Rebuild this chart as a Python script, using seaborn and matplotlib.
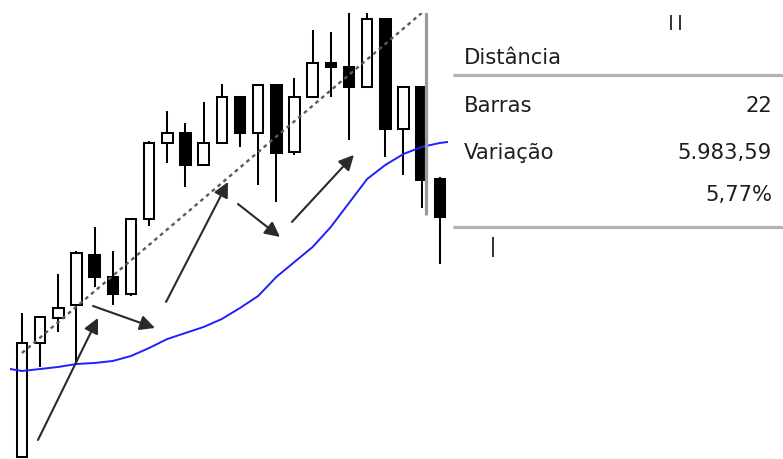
import numpy as np
import pandas as pd
import matplotlib
matplotlib.use("Agg")
import matplotlib.pyplot as plt
import seaborn as sns

# ---------------- data ----------------
opens  = [101870, 103876, 104316, 104545, 105425, 105038, 104738, 106058,
          107396, 107572, 107009, 107396, 108206, 107572, 108417, 107238,
          108206, 108804, 108734, 108382, 109578, 107642, 108382, 106762]
highs  = [104404, 104334, 105090, 105495, 105918, 105495, 106058, 107431,
          107959, 107748, 108118, 108434, 108206, 108417, 108417, 108540,
          109385, 109350, 110000, 110200, 109578, 108382, 108382, 106800]
lows   = [101860, 103454, 104070, 103524, 104862, 104545, 104703, 105935,
          107044, 106622, 107000, 107396, 107326, 106657, 106358, 107185,
          108206, 108206, 107449, 108382, 107150, 106833, 106252, 105266]
closes = [103876, 104334, 104492, 105460, 105038, 104738, 106058, 107396,
          107572, 107009, 107396, 108206, 107572, 108417, 107220, 108206,
          108804, 108734, 108382, 109578, 107642, 108382, 106745, 106094]

ma_index = [-0.66, 0, 1, 2, 3, 4, 5, 6, 7, 8, 9, 10, 11, 12, 13, 14, 15,
            16, 17, 18, 19, 20, 21, 22, 23, 23.45]
ma_values = [103418, 103383, 103418, 103454, 103506, 103524, 103559, 103647,
             103788, 103946, 104052, 104158, 104298, 104492, 104703, 105038,
             105302, 105566, 105918, 106340, 106762, 107009, 107202, 107326,
             107396, 107414]

measure_start_price = 103700.0
measure_bars = 22
measure_change = 5983.59
measure_pct = 5.77

cursor_bar = 22.22
cursor_low = 106129

# arrows: (tail bar, tail price) -> (head bar, head price)
arrow_tails = [(0.88, 102169), (3.91, 104527), (7.93, 104598), (11.89, 106322), (14.86, 106006)]
arrow_heads = [(4.18, 104316), (7.32, 104140), (11.34, 106710), (14.20, 105742), (18.27, 107185)]

panel_title = "Distância"
panel_rows = [("Barras", "22"), ("Variação", "5.983,59"), ("", "5,77%")]

# ---------------- figure ----------------
sns.set_style("white")
plt.rcParams['font.family'] = ['DejaVu Sans']

W, H = 783, 459
fig = plt.figure(figsize=(W / 100, H / 100), dpi=100)
fig.patch.set_facecolor("white")

ax = fig.add_axes([10 / W, 0, 438 / W, 446 / H])
ax.set_axis_off()

df = pd.DataFrame({"idx": np.arange(len(opens)), "open": opens, "high": highs,
                   "low": lows, "close": closes})
df["up"] = df["close"] >= df["open"]
df["bottom"] = df[["open", "close"]].min(axis=1)
df["height"] = (df["close"] - df["open"]).abs()

lw = 1.45
ax.vlines(df["idx"], df["low"], df["high"], color="black", lw=lw, zorder=2)
ax.bar(df["idx"], df["height"], bottom=df["bottom"], width=0.58,
       color=np.where(df["up"], "white", "black"), edgecolor="black",
       linewidth=lw, zorder=3)

# moving average
sns.lineplot(x=ma_index, y=ma_values, ax=ax, color="#1f1fff", lw=1.4,
             estimator=None, sort=False, zorder=4)

# measurement dotted line
sns.lineplot(x=[0, measure_bars],
             y=[measure_start_price, measure_start_price + measure_change],
             ax=ax, color="#5a5a5a", lw=1.7, linestyle=(0, (1.6, 1.6)),
             estimator=None, zorder=5)

ymax = measure_start_price + measure_change
ax.vlines([cursor_bar], cursor_low, ymax + 100, color="#9a9a9a", lw=2.3, zorder=5)

for (tx, ty), (hx, hy) in zip(arrow_tails, arrow_heads):
    ax.annotate("", xy=(hx, hy), xytext=(tx, ty),
                arrowprops=dict(arrowstyle="-|>,head_length=0.9,head_width=0.45",
                                color="#2a2a2a", lw=1.5, shrinkA=0, shrinkB=0,
                                mutation_scale=10),
                zorder=6)

ax.set_xlim(-0.66, 23.45)
ax.set_ylim(101834, ymax)

# ---------------- panel ----------------
pan = fig.add_axes([0, 0, 1, 1], facecolor="none")
pan.set_xlim(0, W)
pan.set_ylim(H, 0)
pan.set_axis_off()

tc = "#1e1e1e"
fs = 15.2
pan.text(464, 63.5, panel_title, fontsize=fs, color=tc, va="baseline", ha="left")
pan.hlines([74.5, 227], 453, W, color="#b3b3b3", lw=2.3)
row_baselines = [112, 159, 201]
for (lab, val), yb in zip(panel_rows, row_baselines):
    if lab:
        pan.text(464, yb, lab, fontsize=fs, color=tc, va="baseline", ha="left")
    pan.text(772, yb, val, fontsize=fs, color=tc, va="baseline", ha="right")

pan.vlines([671, 680], 15, 30, color="#333333", lw=1.4)
pan.vlines([493], 237, 257, color="#333333", lw=1.4)

fig.savefig("out.png", dpi=100, facecolor="white")
